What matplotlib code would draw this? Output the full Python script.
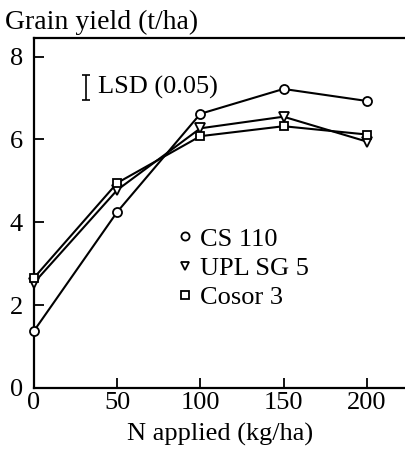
import matplotlib
matplotlib.use("Agg")
import matplotlib.pyplot as plt

n_rate = [0, 50, 100, 150, 200]
cs110 = [1.38, 4.25, 6.62, 7.22, 6.93]
upl_sg5 = [2.54, 4.78, 6.27, 6.55, 5.95]
cosor3 = [2.66, 4.95, 6.08, 6.32, 6.12]
series_names = ["CS 110", "UPL SG 5", "Cosor 3"]
lsd_x = 31
lsd_center = 7.25
lsd_value = 0.6

plt.rcParams['font.family'] = ['Liberation Serif', 'DejaVu Serif']

fig = plt.figure(figsize=(4.05, 4.53), dpi=100)
ax = fig.add_axes([34/405, 65/453, 1 - 34/405 + 0.002, (388-38)/453])

mk = dict(color='black', lw=1.5, markerfacecolor='white', markeredgecolor='black',
          markeredgewidth=1.3, markersize=6.5, clip_on=False, zorder=3)
ax.plot(n_rate, cs110, marker='o', label=series_names[0], **mk)
ax.plot(n_rate, upl_sg5, marker='v', label=series_names[1], **mk)
ax.plot(n_rate, cosor3, marker='s', label=series_names[2], **{**mk, 'markersize': 6})

ax.errorbar([lsd_x], [lsd_center], yerr=[lsd_value/2], fmt='none', ecolor='black',
            elinewidth=1.2, capsize=3, capthick=1.2)
ax.text(lsd_x + 7.5, lsd_center, "LSD (0.05)", fontsize=19, va='center', ha='left')

ax.set_xlim(0, 223.5)
ax.set_ylim(0, 8.45)
ax.set_xticks(n_rate)
ax.set_yticks([0, 2, 4, 6, 8])
ax.tick_params(direction='in', length=7, width=1.3, labelsize=19)
ax.tick_params(axis='y', pad=8)
ax.tick_params(axis='x', pad=3)
ax.spines['right'].set_visible(False)
for s in ['left', 'bottom', 'top']:
    ax.spines[s].set_linewidth(1.6)

ax.set_xlabel("N applied (kg/ha)", fontsize=19, labelpad=6)
fig.text(5/405, 1 - 22/453, "Grain yield (t/ha)", fontsize=20, va='center', ha='left')

leg = ax.legend(loc='upper left', bbox_to_anchor=(0.378, 0.49), frameon=False,
                fontsize=19, handlelength=0, handletextpad=0.55, labelspacing=0.22,
                markerscale=0.9, borderaxespad=0)

fig.savefig("out.png", dpi=100)
